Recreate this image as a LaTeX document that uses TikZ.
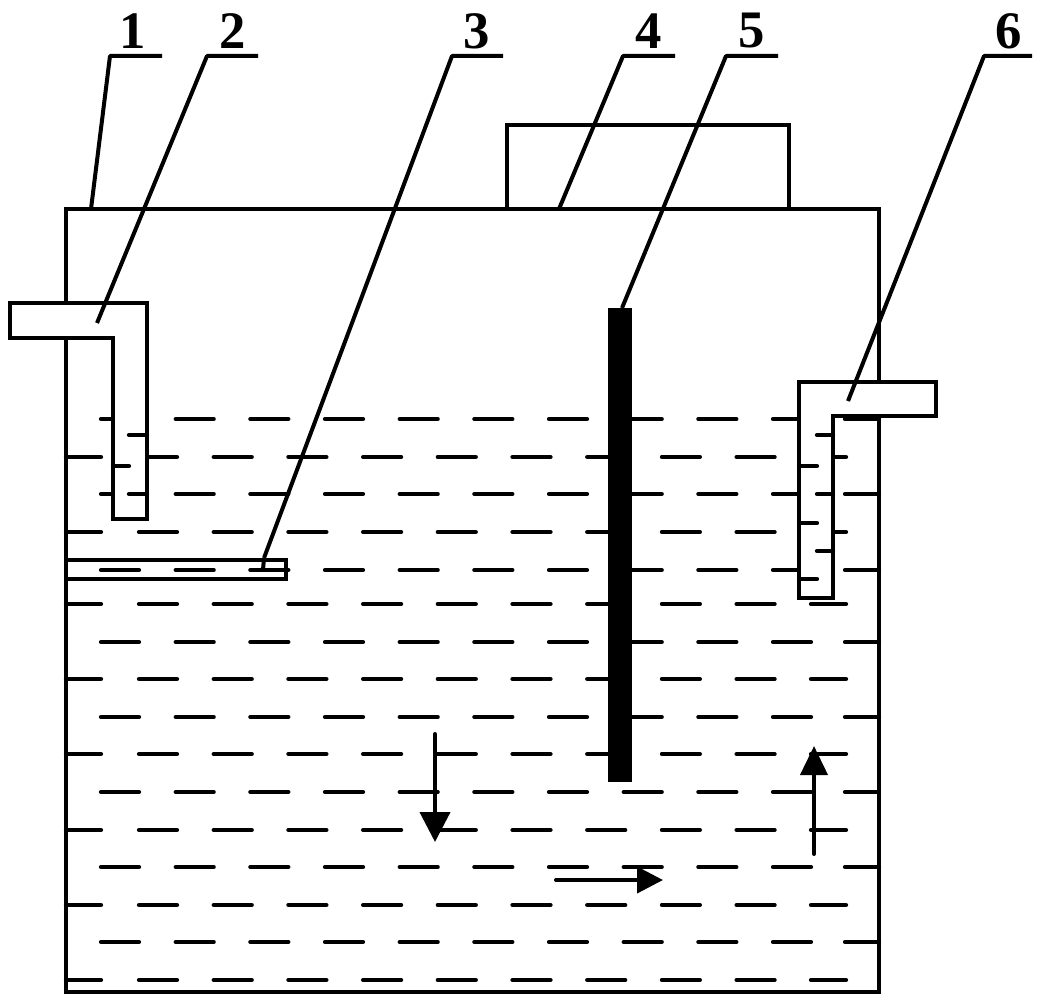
\documentclass[tikz,border=0pt]{standalone}
\usepackage{fontspec}
\setmainfont{Liberation Serif}
\usetikzlibrary{arrows.meta}
\tikzset{
  wall/.style={line width=0.085cm, line join=miter},
  wave/.style={line width=0.085cm, line cap=round},
  leader/.style={line width=0.08cm, line join=round},
  flow/.style={line width=0.08cm, line cap=round},
  partno/.style={inner sep=0pt, font={\bfseries\fontsize{30}{30}\selectfont}}
}
\begin{document}
\begin{tikzpicture}[x=0.02cm, y=-0.02cm]
  \useasboundingbox (0,0) rectangle (1040,1003);
  % liquid, rows starting off the wall
  \foreach \y in {419,494,570,642,717,792,867,942} {
    \foreach \k in {0,...,9} {
      \draw[wave] ({101+74.67*\k},\y) -- +(38,0);
    }
    \draw[wave] (845,\y) -- (879,\y);
  }
  % liquid, rows starting at the wall
  \foreach \y in {457,532,604,679,754,830,905,980} {
    \draw[wave] (66,\y) -- (101,\y);
    \foreach \k in {0,...,8} {
      \draw[wave] ({139+74.7*\k},\y) -- +(38,0);
    }
    \draw[wave] (811,\y) -- (846,\y);
  }
  % tank and cover
  \draw[wall] (66,209) rectangle (879,992);
  \draw[wall] (507,209) |- (789,125) -- (789,209);
  % plate
  \draw[wall] (66,560) -- (286,560) -- (286,579) -- (66,579);
  % inlet and outlet pipes
  \draw[wall, fill=white] (10,303) -- (147,303) -- (147,519) -- (113,519) -- (113,338) -- (10,338) -- cycle;
  \draw[wall, fill=white] (799,382) -- (936,382) -- (936,416) -- (833,416) -- (833,598) -- (799,598) -- cycle;
  % liquid inside the pipes
  \foreach \xa/\xb/\y in {129/147/435,113/129/466,129/147/494,817/833/435,799/817/466,817/833/494,799/817/523,817/833/551,799/817/579} {
    \draw[wave] (\xa,\y) -- (\xb,\y);
  }
  % baffle
  \fill (608,308) rectangle (632,782);
  % flow arrows
  \coordinate (downtop) at (435,734);
  \coordinate (downtip) at (435,842);
  \coordinate (righttail) at (556,880);
  \coordinate (righttip) at (663,880);
  \coordinate (uptail) at (814,854);
  \coordinate (uptip) at (814,746);
  \draw[flow, -{Triangle[length=0.6cm, width=0.6cm]}] (downtop) -- (downtip);
  \draw[flow, -{Triangle[length=0.52cm, width=0.52cm]}] (righttail) -- (righttip);
  \draw[flow, -{Triangle[length=0.58cm, width=0.54cm]}] (uptail) -- (uptip);
  % part numbers
  \foreach \a/\xa/\xb/\xc/\xd/\yd [count=\i] in {1/133/110/162/91/209,2/233/207/258/97/323,3/477/452/503/264/558,4/649/623/675/559/209,5/752/726/778/622/308,6/1009/984/1032/848/401} {
    \node[partno] (no\i) at (\xa,31) {\a};
    \coordinate (knee\i) at (\xb,56);
    \coordinate (tail\i) at (\xc,56);
    \coordinate (foot\i) at (\xd,\yd);
    \draw[leader] (tail\i) -- (knee\i) -- (foot\i);
  }
  \coordinate (footend) at (263,570);
  \draw[leader] (foot3) -- (footend);
\end{tikzpicture}
\end{document}
